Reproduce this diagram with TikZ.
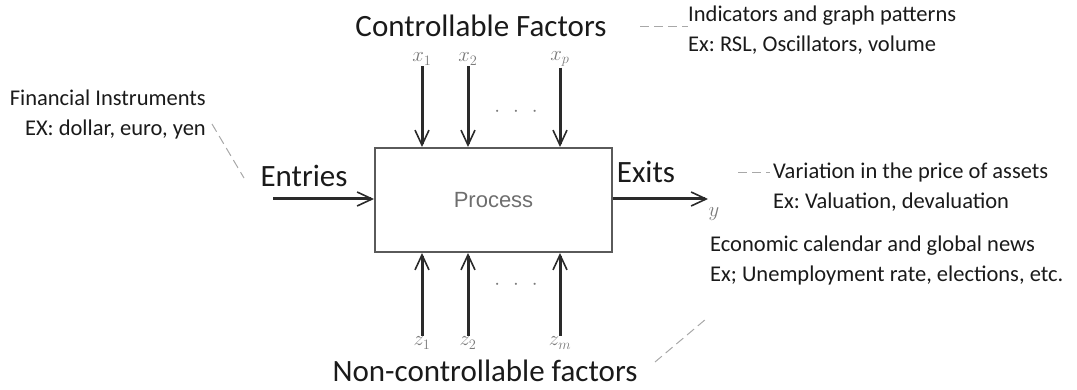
\documentclass[tikz,border=0pt]{standalone}
\usepackage{fontspec}
\setmainfont{Carlito}
\newfontfamily\procfont{Liberation Sans}
\usetikzlibrary{arrows.meta, positioning, calc}
\definecolor{ink}{HTML}{1A1A1A}
\definecolor{shaft}{HTML}{2A2A2A}
\definecolor{boxline}{HTML}{5A5A5A}
\definecolor{procGray}{HTML}{6E6E6E}
\definecolor{varGray}{HTML}{7A7A7A}
\definecolor{leadGray}{HTML}{A8A8A8}
\frenchspacing
\newcommand{\gapdots}{${\cdot}\hspace{13pt}{\cdot}\hspace{13pt}{\cdot}$}
\tikzset{
  procbox/.style={
    rectangle, draw=boxline, line width=2pt, minimum width=237pt,
    minimum height=104pt, font=\procfont\fontsize{22}{24}\selectfont, text=procGray
  },
  arr/.style={-{Straight Barb[length=15pt, width=14pt, line width=1.6pt]}, line width=3pt, draw=shaft},
  var/.style={text=varGray, font=\fontsize{21}{23}\selectfont, inner sep=1pt},
  heading/.style={font=\fontsize{31}{34}\selectfont, text=ink, inner sep=0pt},
  note/.style={font=\fontsize{22.5}{30}\selectfont, text=ink, inner sep=0pt},
  leader/.style={draw=leadGray, line width=1pt, dash pattern=on 9pt off 5pt}
}
\begin{document}
\begin{tikzpicture}[x=1pt, y=-1pt]
\useasboundingbox (0,0) rectangle (1077,390);

% ---------------- Process ----------------
\node[procbox] (process) at (493.5,200) {Process};

% ---------------- Controllable inputs ----------------
\node[var] (x1) at (422,59) {$x_1$};
\node[var] (x2) at (468,59) {$x_2$};
\node[var] (xp) at (560,59) {$x_p$};
\draw[arr] (x1) -- (x1 |- process.north);
\draw[arr] (x2) -- (x2 |- process.north);
\draw[arr] (xp) -- (xp |- process.north);
\node[var] (xdots) at (516,112) {\gapdots};

% ---------------- Non-controllable inputs ----------------
\node[var] (z1) at (422,343) {$z_1$};
\node[var] (z2) at (468,343) {$z_2$};
\node[var] (zm) at (560,343) {$z_m$};
\draw[arr] (z1) -- (z1 |- process.south);
\draw[arr] (z2) -- (z2 |- process.south);
\draw[arr] (zm) -- (zm |- process.south);
\node[var] (zdots) at (516,285) {\gapdots};

% ---------------- Entries / exits ----------------
\coordinate (entry) at (273,199);
\coordinate (exit) at (708,199);
\draw[arr] (entry) -- (entry -| process.west);
\draw[arr] (exit -| process.east) -- (exit);
\node[heading] (entries) at (304,176) {Entries};
\node[heading] (exits) at (646,172) {Exits};
\node[var] (yout) at (714,214) {$y$};

% ---------------- Headings ----------------
\node[heading] (ctrl) at (481,26) {Controllable Factors};
\node[heading] (nonctrl) at (485,371) {Non-controllable factors};

% ---------------- Notes ----------------
\node[note, anchor=west, align=left] (indic) at (688,30)
  {Indicators and graph patterns\\Ex: RSL, Oscillators, volume};
\node[note, anchor=east, align=right] (finance) at (206,115)
  {Financial Instruments\\EX: dollar, euro, yen};
\node[note, anchor=west, align=left] (pricevar) at (773,187)
  {Variation in the price of assets\\Ex: Valuation, devaluation};
\node[note, anchor=west, align=left] (econ) at (710,261)
  {Economic calendar and global news\\Ex; Unemployment rate, elections, etc.};

% ---------------- Leader lines ----------------
\coordinate (ctrlLead) at (640,27);
\coordinate (finLead) at (212,124);
\coordinate (entLead) at (244,178);
\coordinate (priceLead) at (738,173);
\coordinate (nonLead) at (655,362);
\coordinate (econLead) at (706,319);
\draw[leader] (ctrlLead) -- (ctrlLead -| indic.west);
\draw[leader] (finLead) -- (entLead);
\draw[leader] (priceLead) -- ([xshift=-3pt]priceLead -| pricevar.west);
\draw[leader] (nonLead) -- (econLead);

\end{tikzpicture}
\end{document}
